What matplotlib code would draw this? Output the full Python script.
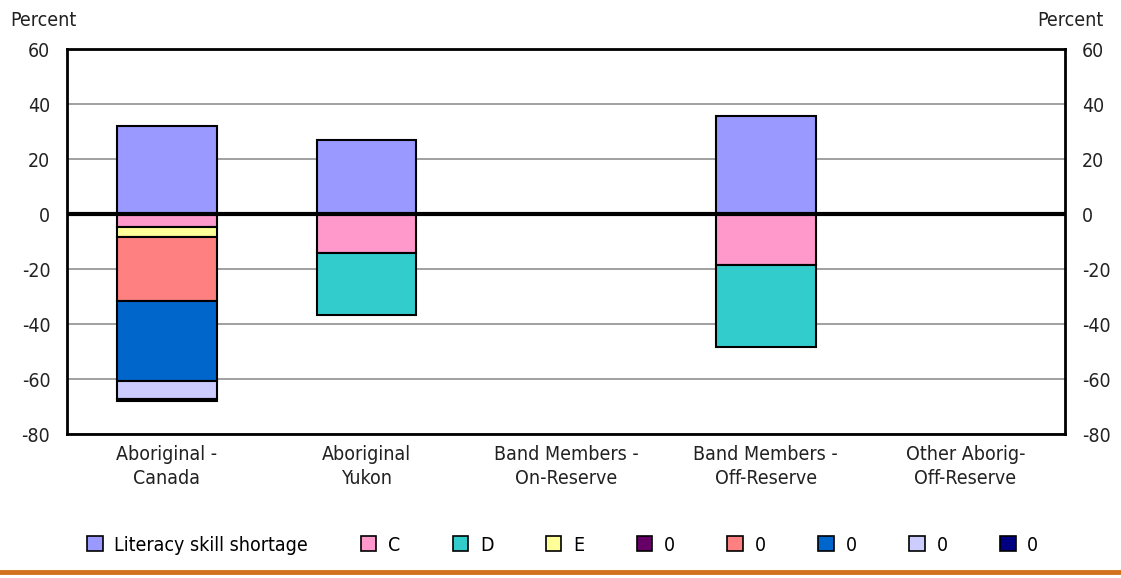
import matplotlib.pyplot as plt
import numpy as np
from matplotlib.lines import Line2D

plt.rcParams['font.family'] = ['Liberation Sans Narrow', 'DejaVu Sans']
plt.rcParams['font.stretch'] = 'condensed'
plt.rcParams['axes.unicode_minus'] = False

categories = ['Aboriginal -\nCanada', 'Aboriginal\nYukon', 'Band Members -\nOn-Reserve',
              'Band Members -\nOff-Reserve', 'Other Aborig-\nOff-Reserve']

literacy = [32.0, 27.0, 0, 35.7, 0]
c_vals = [-4.6, -14.3, 0, -18.5, 0]
d_vals = [0, -22.4, 0, -29.7, 0]
e_vals = [-3.9, 0, 0, 0, 0]
purple_vals = [0, 0, 0, 0, 0]
salmon_vals = [-23.0, 0, 0, 0, 0]
blue_vals = [-29.1, 0, 0, 0, 0]
lavender_vals = [-6.8, 0, 0, 0, 0]
navy_vals = [-0.4, 0, 0, 0, 0]

neg_series = [
    ('C', c_vals, '#FF99CC'),
    ('D', d_vals, '#33CCCC'),
    ('E', e_vals, '#FFFF99'),
    ('0', purple_vals, '#660066'),
    ('0', salmon_vals, '#FF8080'),
    ('0', blue_vals, '#0066CC'),
    ('0', lavender_vals, '#CCCCFF'),
    ('0', navy_vals, '#000080'),
]

fig = plt.figure(figsize=(11.21, 5.78), dpi=100)
ax = fig.add_axes([0.0598, 0.249, 0.8905, 0.666])

x = np.arange(len(categories))
w = 0.5
ax.bar(x, literacy, w, color='#9999FF', edgecolor='black', linewidth=1.5, zorder=3)
bottom = np.zeros(len(categories))
for name, vals, col in neg_series:
    vals = np.array(vals)
    mask = vals != 0
    ax.bar(x[mask], vals[mask], w, bottom=bottom[mask], color=col,
           edgecolor='black', linewidth=1.5, zorder=3)
    bottom += vals

ax.set_xlim(-0.5, 4.5)
ax.set_ylim(-80, 60)
ax.set_yticks(range(-80, 61, 20))
ax.yaxis.grid(True, color='#999999', linewidth=1.3, zorder=0)
ax.axhline(0, color='black', linewidth=3, zorder=4)
ax.set_xticks(x)
ax.set_xticklabels(categories, fontsize=14, color='#222222', linespacing=1.3)
ax.tick_params(axis='both', length=0, labelsize=14, pad=8, colors='#222222')
ax.tick_params(axis='y', pad=12)
ax.tick_params(labelright=True)
for s in ax.spines.values():
    s.set_linewidth(2)

fig.text(0.009, 0.965, 'Percent', fontsize=14, color='#222222', ha='left', va='center')
fig.text(0.984, 0.965, 'Percent', fontsize=14, color='#222222', ha='right', va='center')

handles = [plt.Rectangle((0, 0), 1, 1, facecolor='#9999FF', edgecolor='black', linewidth=1.2)]
labels = ['Literacy skill shortage']
for name, vals, col in neg_series:
    handles.append(plt.Rectangle((0, 0), 1, 1, facecolor=col, edgecolor='black', linewidth=1.2))
    labels.append(name)
fig.legend(handles, labels, loc='center', bbox_to_anchor=(0.502, 0.057), ncol=9, frameon=False,
           fontsize=14, handlelength=0.8, handleheight=0.8, handletextpad=0.6, columnspacing=2.7)

fig.add_artist(Line2D([0, 1], [0.01, 0.01], color='#D2721F', linewidth=3.5))

fig.savefig('out.png', dpi=100)
